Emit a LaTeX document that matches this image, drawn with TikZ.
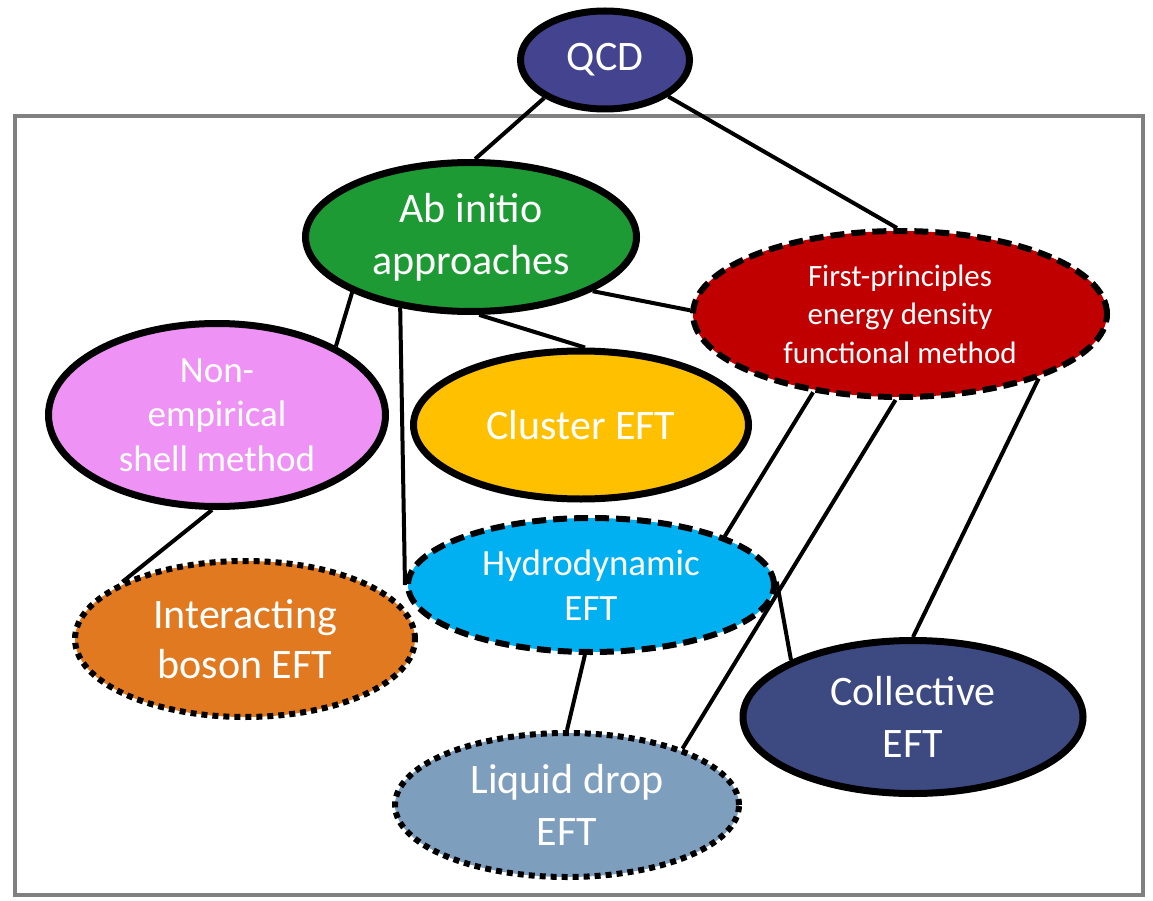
\documentclass[tikz,border=0pt]{standalone}
\usepackage{fontspec}
\setmainfont{Carlito}
\usetikzlibrary{shapes.geometric}

\definecolor{qcdblue}{RGB}{67,67,143}
\definecolor{abgreen}{RGB}{30,154,52}
\definecolor{edfred}{RGB}{192,0,0}
\definecolor{shellpink}{RGB}{239,146,246}
\definecolor{clusteryellow}{RGB}{255,192,0}
\definecolor{hydrocyan}{RGB}{0,176,240}
\definecolor{ibmorange}{RGB}{224,121,31}
\definecolor{collblue}{RGB}{61,74,130}
\definecolor{dropblue}{RGB}{126,158,190}
\definecolor{framegray}{RGB}{128,128,128}

\begin{document}
\begin{tikzpicture}[x=1pt,y=-1pt,
  bubble/.style={ellipse, draw=black, line width=7pt, inner sep=0pt,
    text=white, align=center},
  dashrim/.style={line width=6pt, dash pattern=on 14pt off 7pt},
  dotrim/.style={line width=6pt, dash pattern=on 6pt off 5pt},
  bigtext/.style={font=\fontsize{42}{52}\selectfont},
  midtext/.style={font=\fontsize{37}{44.5}\selectfont},
  smalltext/.style={font=\fontsize{31}{38.5}\selectfont},
  link/.style={draw=black, line width=4pt},
  frame/.style={draw=framegray, line width=4.5pt}]

\useasboundingbox (0,0) rectangle (1153,901);

% outer frame around the nuclear methods
\draw[frame] (15,116) rectangle (1143,895);

% method bubbles
\node[bubble, bigtext, fill=qcdblue, minimum width=169pt, minimum height=98pt]
  (qcd) at (605,60) {QCD};
\node[bubble, bigtext, fill=abgreen, minimum width=331pt, minimum height=149pt]
  (abi) at (471,237) {Ab initio\\approaches};
\node[bubble, smalltext, dashrim, fill=edfred, minimum width=414pt, minimum height=166pt]
  (edf) at (900,314) {First-principles\\energy density\\functional method};
\node[bubble, midtext, fill=shellpink, minimum width=337pt, minimum height=183pt]
  (shell) at (217,415) {Non-\\empirical\\shell method};
\node[bubble, bigtext, fill=clusteryellow, minimum width=335pt, minimum height=148pt]
  (cluster) at (581,425) {Cluster EFT};
\node[bubble, midtext, dashrim, fill=hydrocyan, minimum width=366pt, minimum height=134pt]
  (hydro) at (591,585) {Hydrodynamic\\EFT};
\node[bubble, dotrim, fill=ibmorange, minimum width=340pt, minimum height=156pt,
  font=\fontsize{42}{50}\selectfont]
  (ibm) at (245,639) {Interacting\\boson EFT};
\node[bubble, bigtext, fill=collblue, minimum width=340pt, minimum height=153pt]
  (coll) at (913,717) {Collective\\EFT};
\node[bubble, bigtext, dotrim, fill=dropblue, minimum width=344pt, minimum height=144pt]
  (drop) at (567,805) {Liquid drop\\EFT};

% connections between methods
\draw[link] (qcd.212) -- (abi.87);
\draw[link] (qcd.330) -- (edf.92);
\draw[link] (abi.336) -- (edf.179);
\draw[link] (abi.205.6) -- (shell.30);
\draw[link] (abi.225) -- (hydro.180.6);
\draw[link] (abi.276.6) -- (cluster.87);
\draw[link] (shell.267.5) -- (ibm.155);
\draw[link] (edf.222) -- (hydro.20.5);
\draw[link] (edf.267) -- (drop.26.4);
\draw[link] (edf.335.4) -- (coll.90.7);
\draw[link] (hydro.1.6) -- (coll.155.9);
\draw[link] (hydro.265) -- (drop.90);

\end{tikzpicture}
\end{document}
